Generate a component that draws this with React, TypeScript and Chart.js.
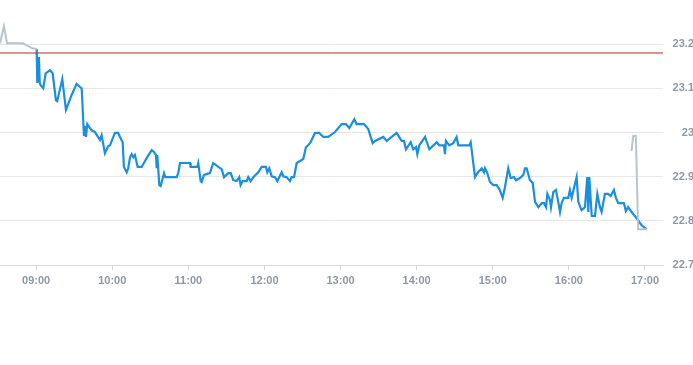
import React, { useEffect, useRef } from "react";
import { Chart, registerables } from "chart.js";

Chart.register(...registerables);

// minutes since midnight
const preTimes = [511.5, 514.6, 517.0, 529.6, 536.7, 540.6];
const preValues = [23.202, 23.241, 23.202, 23.202, 23.191, 23.189];

const mainTimes = [
  540.4, 540.9, 542.2, 542.8, 543.5, 545.6, 547.5, 550.9, 553.0, 555.6, 556.6, 560.6, 563.5, 568.0, 571.9, 574.5,
  575.9, 577.7, 578.5, 579.3, 580.3, 581.9, 583.8, 586.4, 590.3, 591.6, 594.2, 596.8, 598.2, 602.1, 604.7, 606.1,
  608.2, 609.2, 611.4, 612.6, 614.0, 615.3, 616.6, 617.9, 620.0, 623.2, 627.1, 631.1, 632.9, 634.5, 635.0, 635.5,
  637.1, 638.2, 640.8, 641.8, 650.8, 652.0, 653.4, 661.3, 661.8, 667.0, 667.8, 669.7, 670.5, 672.3, 677.0, 679.6,
  683.6, 686.3, 688.1, 691.5, 693.4, 695.4, 698.1, 700.1, 701.2, 702.8, 706.0, 707.2, 709.1, 711.2, 715.1, 717.8,
  721.2, 722.2, 723.8, 725.7, 728.3, 730.1, 733.6, 734.8, 737.5, 740.1, 741.4, 743.3, 745.4, 750.6, 752.7, 754.5,
  756.4, 759.8, 763.2, 766.4, 770.3, 775.6, 780.9, 784.3, 786.9, 790.8, 792.7, 798.5, 801.8, 805.3, 807.1, 813.7,
  816.3, 824.2, 828.1, 830.0, 831.6, 835.3, 837.3, 839.5, 840.5, 842.1, 846.6, 850.0, 855.8, 857.8, 861.5, 862.3,
  863.1, 865.7, 868.9, 871.5, 872.8, 881.5, 882.6, 886.0, 887.8, 891.3, 893.1, 893.9, 895.7, 897.8, 900.4, 903.1,
  905.2, 907.8, 909.6, 912.2, 914.1, 916.7, 918.3, 921.5, 924.1, 925.4, 926.7, 929.3, 931.5, 933.3, 935.9, 938.6,
  940.4, 942.0, 943.0, 945.1, 945.9, 947.7, 949.8, 951.6, 953.0, 954.3, 956.1, 959.5, 960.8, 962.2, 966.1, 967.4,
  970.0, 972.7, 974.5, 975.3, 976.1, 978.0, 980.6, 982.4, 984.5, 985.8, 988.4, 991.0, 992.9, 995.5, 997.1, 998.9,
  1003.4, 1004.9, 1006.7, 1009.4, 1013.4, 1017.3, 1021.3,
];
const mainValues = [
  23.189, 23.112, 23.171, 23.112, 23.107, 23.1, 23.134, 23.141, 23.134, 23.073, 23.071, 23.121, 23.051, 23.085, 23.11, 23.103,
  23.1, 22.992, 23.015, 22.99, 23.019, 23.012, 23.005, 23.001, 22.983, 22.994, 22.953, 22.969, 22.971, 22.999, 22.999, 22.99,
  22.978, 22.922, 22.91, 22.919, 22.944, 22.951, 22.944, 22.949, 22.922, 22.922, 22.942, 22.96, 22.956, 22.949, 22.919, 22.949,
  22.881, 22.879, 22.908, 22.899, 22.899, 22.908, 22.931, 22.931, 22.922, 22.922, 22.931, 22.89, 22.888, 22.904, 22.908, 22.931,
  22.922, 22.917, 22.899, 22.908, 22.908, 22.892, 22.89, 22.899, 22.881, 22.89, 22.89, 22.899, 22.89, 22.899, 22.91, 22.922,
  22.922, 22.91, 22.919, 22.901, 22.899, 22.89, 22.91, 22.901, 22.899, 22.89, 22.899, 22.899, 22.931, 22.94, 22.967, 22.971,
  22.978, 22.999, 22.999, 22.99, 22.99, 23.001, 23.019, 23.019, 23.01, 23.03, 23.019, 23.019, 23.008, 22.976, 22.981, 22.99,
  22.981, 22.999, 22.981, 22.981, 22.962, 22.978, 22.962, 22.967, 22.951, 22.971, 22.99, 22.962, 22.978, 22.971, 22.971, 22.951,
  22.981, 22.971, 22.976, 22.99, 22.971, 22.971, 22.978, 22.899, 22.908, 22.919, 22.91, 22.919, 22.908, 22.888, 22.881, 22.881,
  22.872, 22.852, 22.876, 22.919, 22.897, 22.899, 22.892, 22.897, 22.904, 22.919, 22.919, 22.892, 22.886, 22.843, 22.831, 22.84,
  22.84, 22.831, 22.861, 22.847, 22.831, 22.865, 22.87, 22.843, 22.82, 22.84, 22.852, 22.852, 22.87, 22.852, 22.899, 22.843,
  22.824, 22.831, 22.899, 22.82, 22.899, 22.811, 22.811, 22.861, 22.831, 22.82, 22.861, 22.861, 22.856, 22.87, 22.852, 22.84,
  22.84, 22.822, 22.831, 22.82, 22.806, 22.79, 22.781,
];

const postTimes = [1009.4, 1010.7, 1012.8, 1014.6, 1021.3];
const postValues = [22.958, 22.992, 22.992, 22.781, 22.781];

const prevClose = 23.18;
const xMin = 511.5;
const xMax = 1034.2;
const xTickValues = [540, 600, 660, 720, 780, 840, 900, 960, 1020];
const yTickValues = [22.7, 22.8, 22.9, 23.0, 23.1, 23.2];
const yMin = 22.7;
const yMax = 23.3;

const toPoints = (ts: number[], vs: number[]) => ts.map((t, i) => ({ x: t, y: vs[i] }));
const fmtTime = (m: number) => {
  const h = Math.floor(m / 60);
  const mm = Math.round(m % 60);
  return String(h).padStart(2, "0") + ":" + String(mm).padStart(2, "0");
};

export default function App() {
  const ref = useRef<HTMLCanvasElement | null>(null);
  useEffect(() => {
    if (!ref.current) return;
    const font = { family: "'Liberation Sans', Arial, sans-serif", size: 11, weight: "bold" as const };
    const chart = new Chart(ref.current, {
      type: "line",
      data: {
        datasets: [
          {
            data: toPoints([xMin, xMax], [prevClose, prevClose]),
            borderColor: "#b8262b",
            borderWidth: 1,
            pointRadius: 0,
            tension: 0,
          },
          {
            data: toPoints(preTimes, preValues),
            borderColor: "#b9c4cc",
            borderWidth: 2,
            pointRadius: 0,
            tension: 0,
          },
          {
            data: toPoints(postTimes, postValues),
            borderColor: "#b9c4cc",
            borderWidth: 2,
            pointRadius: 0,
            tension: 0,
          },
          {
            data: toPoints(mainTimes, mainValues),
            borderColor: "#1a8fe0",
            borderWidth: 2.2,
            pointRadius: 0,
            tension: 0,
          },
        ],
      },
      options: {
        animation: false,
        responsive: true,
        maintainAspectRatio: false,
        layout: { padding: 0 },
        plugins: { legend: { display: false }, tooltip: { enabled: false } },
        scales: {
          x: {
            type: "linear",
            min: xMin,
            max: xMax,
            afterBuildTicks: (s: any) => {
              s.ticks = xTickValues.map((v) => ({ value: v }));
            },
            afterFit: (s: any) => {
              s.height = 30;
              s.paddingLeft = 0;
              s.paddingRight = 0;
            },
            grid: { drawOnChartArea: false, drawTicks: true, tickLength: 5, color: "#cfd6de" },
            border: { display: true, color: "#cfd6de" },
            ticks: {
              color: "#8e98a4",
              font,
              padding: 4,
              maxRotation: 0,
              autoSkip: false,
              callback: (v: any) => fmtTime(Number(v)),
            },
          },
          y: {
            position: "right",
            min: yMin,
            max: yMax,
            afterBuildTicks: (s: any) => {
              s.ticks = yTickValues.map((v) => ({ value: v }));
            },
            afterFit: (s: any) => {
              s.width = 31;
              s.paddingTop = 0;
              s.paddingBottom = 0;
            },
            grid: { drawTicks: false, color: "#e4e7ea" },
            border: { display: false },
            ticks: {
              color: "#8e98a4",
              font,
              padding: 9,
              crossAlign: "far",
              callback: (v: any) => String(Number(Number(v).toFixed(1))),
            },
          },
        },
      },
    });
    return () => chart.destroy();
  }, []);
  return (
    <div style={{ position: "fixed", left: 0, top: 0, width: 693, height: 365, overflow: "hidden", background: "#fff" }}>
      <div style={{ position: "absolute", left: 0, top: 0, width: 694, height: 295 }}>
        <canvas ref={ref} />
      </div>
    </div>
  );
}
